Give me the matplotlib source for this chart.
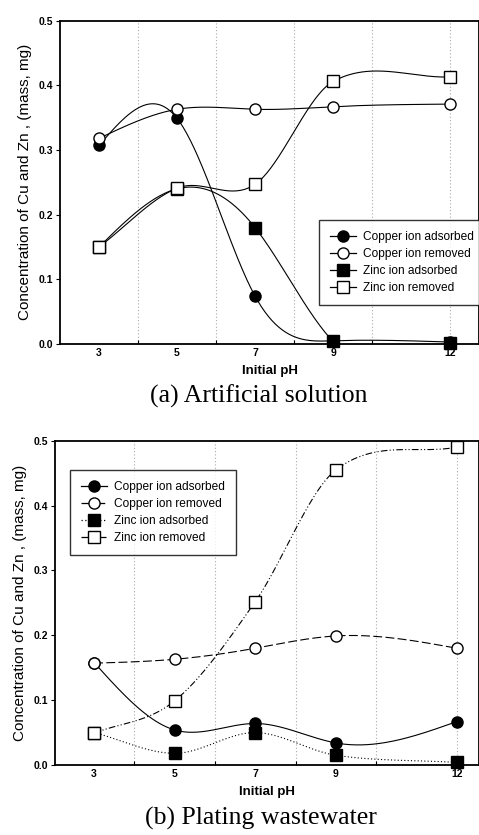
import numpy as np
import matplotlib
matplotlib.use("Agg")
import matplotlib.pyplot as plt

# ---------------- data ----------------
ph = [3, 5, 7, 9, 12]
tick_labels = ["3", "5", "7", "9", "12"]
grid_ph = [4, 6, 8, 10, 12]

# (a) Artificial solution
a_cu_ads = [0.307, 0.349, 0.074, 0.005, 0.003]
a_cu_rem = [0.318, 0.363, 0.363, 0.367, 0.371]
a_zn_ads = [0.150, 0.240, 0.180, 0.004, 0.002]
a_zn_rem = [0.150, 0.241, 0.247, 0.406, 0.413]

# (b) Plating wastewater
b_cu_ads = [0.158, 0.054, 0.064, 0.034, 0.067]
b_cu_rem = [0.157, 0.163, 0.180, 0.199, 0.180]
b_zn_ads = [0.050, 0.018, 0.050, 0.015, 0.004]
b_zn_rem = [0.049, 0.099, 0.252, 0.455, 0.490]

labels = ["Copper ion adsorbed", "Copper ion removed",
          "Zinc ion adsorbed", "Zinc ion removed"]


def natural_spline(x, y, n=300):
    x = np.asarray(x, float)
    y = np.asarray(y, float)
    m = len(x)
    h = np.diff(x)
    A = np.zeros((m, m))
    b = np.zeros(m)
    A[0, 0] = 1
    A[-1, -1] = 1
    for i in range(1, m - 1):
        A[i, i - 1] = h[i - 1]
        A[i, i] = 2 * (h[i - 1] + h[i])
        A[i, i + 1] = h[i]
        b[i] = 3 * ((y[i + 1] - y[i]) / h[i] - (y[i] - y[i - 1]) / h[i - 1])
    c = np.linalg.solve(A, b)
    xs = np.linspace(x[0], x[-1], n)
    ys = np.empty_like(xs)
    for k, xv in enumerate(xs):
        i = min(np.searchsorted(x, xv, side="right") - 1, m - 2)
        dx = xv - x[i]
        bi = (y[i + 1] - y[i]) / h[i] - h[i] * (2 * c[i] + c[i + 1]) / 3
        di = (c[i + 1] - c[i]) / (3 * h[i])
        ys[k] = y[i] + bi * dx + c[i] * dx ** 2 + di * dx ** 3
    return xs, ys


def hermite_spline(x, y, n=300):
    x = np.asarray(x, float)
    y = np.asarray(y, float)
    m = len(x)
    t = np.zeros(m)
    t[0] = (y[1] - y[0]) / (x[1] - x[0])
    t[-1] = (y[-1] - y[-2]) / (x[-1] - x[-2])
    for i in range(1, m - 1):
        t[i] = (y[i + 1] - y[i - 1]) / (x[i + 1] - x[i - 1])
    xs = np.linspace(x[0], x[-1], n)
    ys = np.empty_like(xs)
    for k, xv in enumerate(xs):
        i = min(np.searchsorted(x, xv, side="right") - 1, m - 2)
        h = x[i + 1] - x[i]
        s = (xv - x[i]) / h
        h00 = 2 * s ** 3 - 3 * s ** 2 + 1
        h10 = s ** 3 - 2 * s ** 2 + s
        h01 = -2 * s ** 3 + 3 * s ** 2
        h11 = s ** 3 - s ** 2
        ys[k] = h00 * y[i] + h10 * h * t[i] + h01 * y[i + 1] + h11 * h * t[i + 1]
    return xs, ys


W, H = 479, 835
fig = plt.figure(figsize=(W / 100, H / 100), dpi=100)
tickfont = dict(family="Liberation Sans", size=7.5, weight="bold")


def make_axes(rect, xlim, series, styles, curves, legend_loc):
    ax = fig.add_axes(rect)
    ax.set_xlim(*xlim)
    ax.set_ylim(0, 0.5)
    for g in grid_ph:
        ax.axvline(g, color="#aaaaaa", lw=0.8, ls=(0, (1, 2)), zorder=0)
    ax.set_xticks(ph)
    ax.set_xticklabels(tick_labels, fontdict=tickfont)
    ax.set_xticks(grid_ph, minor=True)
    ax.tick_params(axis="x", which="major", length=0, pad=3)
    ax.tick_params(axis="x", which="minor", direction="in", length=3, width=0.8)
    ax.set_yticks([0, 0.1, 0.2, 0.3, 0.4, 0.5])
    ax.set_yticklabels(["0.0", "0.1", "0.2", "0.3", "0.4", "0.5"], fontdict=tickfont)
    ax.tick_params(axis="y", direction="out", length=3, width=0.8, pad=2)
    for s in ax.spines.values():
        s.set_linewidth(1.3)
    ax.set_xlabel("Initial pH", fontdict=dict(family="Liberation Sans", size=9.5, weight="bold"),
                  labelpad=5)
    ax.set_ylabel("Concentration of Cu and Zn , (mass, mg)",
                  fontdict=dict(family="Liberation Sans", size=11), labelpad=5)
    markers = ["o", "o", "s", "s"]
    faces = ["black", "white", "black", "white"]
    order = [0, 2, 1, 3]
    handles = [None] * 4
    for i in order:
        fn = natural_spline if curves[i] == "natural" else hermite_spline
        xs, ys = fn(ph, series[i])
        ax.plot(xs, ys, color="black", lw=0.8, ls=styles[i], zorder=2 + i % 2)
        ax.plot(ph, series[i], ls="none", marker=markers[i], ms=8,
                mfc=faces[i], mec="black", mew=1.0, zorder=4 + i % 2, clip_on=False)
        handles[i] = plt.Line2D([], [], color="black", lw=0.9, ls=styles[i],
                                marker=markers[i], ms=8, mfc=faces[i], mec="black")
    leg = ax.legend(handles, labels, prop=dict(family="Liberation Sans", size=8.6),
                    frameon=True, fancybox=False, edgecolor="black",
                    handlelength=2.2, handletextpad=0.6, borderpad=0.9,
                    labelspacing=0.42, borderaxespad=0, **legend_loc)
    leg.get_frame().set_linewidth(1.0)
    return ax


ax1 = make_axes([60 / W, 491 / H, 419 / W, 323.3 / H], (2.0, 12.74),
                [a_cu_ads, a_cu_rem, a_zn_ads, a_zn_rem],
                ["-", "-", "-", "-"],
                ["natural", "natural", "natural", "hermite"],
                dict(loc="upper left", bbox_to_anchor=(0.618, 0.3835)))

ax2 = make_axes([55 / W, 70 / H, 424 / W, 324.3 / H], (2.03, 12.55),
                [b_cu_ads, b_cu_rem, b_zn_ads, b_zn_rem],
                ["-", (0, (8, 3)), (0, (1, 2)), (0, (6, 2, 1, 2, 1, 2))],
                ["natural", "natural", "hermite", "hermite"],
                dict(loc="upper left", bbox_to_anchor=(0.0354, 0.9097)))

fig.text(259 / W, 1 - 396 / H, "(a) Artificial solution", ha="center", va="center",
         family="Liberation Serif", size=18.5)
fig.text(261 / W, 1 - 818 / H, "(b) Plating wastewater", ha="center", va="center",
         family="Liberation Serif", size=18.5)

fig.savefig("out.png", dpi=100)
